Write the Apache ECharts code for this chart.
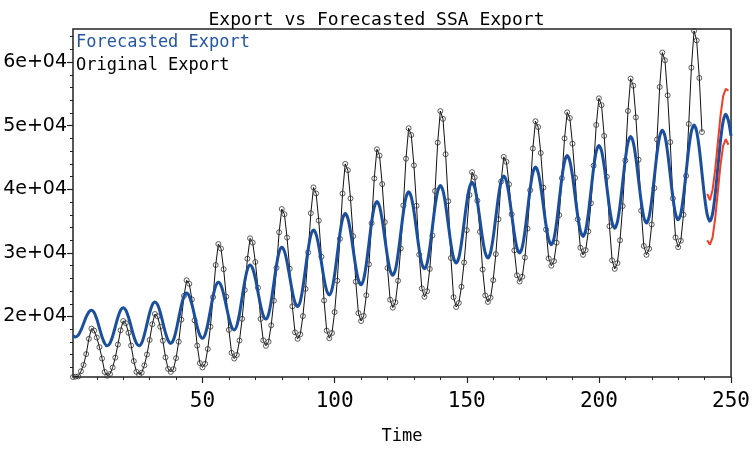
<!DOCTYPE html>
<html>
<head>
<meta charset="utf-8">
<script src="https://cdn.jsdelivr.net/npm/echarts@6/dist/echarts.min.js"></script>
<style>
  html, body { margin: 0; padding: 0; background: #fff; }
  #chart { width: 753px; height: 450px; }
</style>
</head>
<body>
<div id="chart"></div>
<script>
// original export, t = 1..239
const originalExport = [
  10500, 10550, 10600, 11400, 12400, 14100, 16500, 18100, 17800, 16700,
  15200, 13400, 11300, 10700, 10960, 11990, 13540, 15600, 17840, 19300,
  18960, 17450, 15440, 13000, 11320, 10900, 11190, 12330, 14040, 16320,
  18790, 20400, 20040, 18400, 16210, 13580, 11760, 11300, 11730, 13460,
  16050, 19510, 23250, 25700, 25150, 22690, 19400, 15430, 12690, 12000,
  12580, 14910, 18400, 23060, 28100, 31400, 30680, 27440, 23120, 17900,
  14300, 13400, 13970, 16240, 19640, 24170, 29090, 32300, 31620, 28580,
  24530, 19630, 16250, 15400, 16050, 18630, 22500, 27660, 33250, 36900,
  36080, 32410, 27520, 21600, 17520, 16500, 17210, 20070, 24350, 30070,
  36250, 40300, 39350, 35090, 29400, 22530, 17790, 16600, 17420, 20710,
  25640, 32220, 39340, 44000, 43010, 38570, 32640, 25480, 20540, 19300,
  20110, 23350, 28210, 34690, 41710, 46300, 45300, 40820, 34850, 27630,
  22650, 21400, 22250, 25630, 30710, 37470, 44810, 49600, 48540, 43770,
  37410, 29730, 24430, 23100, 23980, 27480, 32740, 39740, 47340, 52300,
  51070, 45520, 38130, 29200, 23040, 21500, 22140, 24680, 28500, 33580,
  39100, 42700, 41880, 38210, 33320, 27400, 23320, 22300, 22980, 25720,
  29820, 35300, 41220, 45100, 44320, 40790, 36080, 30400, 26480, 25500,
  26260, 29280, 33820, 39860, 46420, 50700, 49790, 45710, 40260, 33680,
  29140, 28000, 28720, 31620, 35950, 41740, 48000, 52100, 51200, 47170,
  41800, 35300, 30820, 29700, 30440, 33390, 37820, 43720, 50120, 54300,
  53230, 48400, 41970, 34200, 28840, 27500, 28400, 31990, 37370, 44540,
  52320, 57400, 56290, 51310, 44660, 36630, 31090, 29700, 30650, 34470,
  40190, 47830, 56090, 61500, 60280, 54770, 47420, 38550, 32430, 30900,
  31920, 36000, 42120, 50280, 59120, 64900, 63400, 57500, 49000
];

// forecasted (SSA) export, t = 1..250
const forecastExport = [
  17000, 16800, 17080, 17850, 18900, 19950, 20720, 21000, 20630, 19600,
  18200, 16800, 15780, 15400, 15800, 16900, 18400, 19900, 21000, 21400,
  21000, 19900, 18400, 16900, 15800, 15400, 15860, 17130, 18850, 20580,
  21840, 22300, 21870, 20680, 19050, 17430, 16240, 15800, 16330, 17780,
  19750, 21730, 23170, 23700, 23220, 21930, 20150, 18380, 17080, 16600,
  17190, 18800, 21000, 23200, 24810, 25400, 24900, 23530, 21650, 19780,
  18400, 17900, 18580, 20450, 23000, 25550, 27420, 28100, 27530, 25980,
  23850, 21730, 20170, 19600, 20360, 22430, 25250, 28080, 30140, 30900,
  30280, 28580, 26250, 23930, 22220, 21600, 22400, 24600, 27600, 30600,
  32800, 33600, 32920, 31050, 28500, 25950, 24080, 23400, 24260, 26600,
  29800, 33000, 35340, 36200, 35450, 33400, 30600, 27800, 25750, 25000,
  25880, 28280, 31550, 34830, 37220, 38100, 37320, 35200, 32300, 29400,
  27280, 26500, 27380, 29780, 33050, 36330, 38720, 39600, 38790, 36580,
  33550, 30530, 28310, 27500, 28380, 30780, 34050, 37330, 39720, 40600,
  39780, 37550, 34500, 31450, 29220, 28400, 29250, 31580, 34750, 37930,
  40250, 41100, 40300, 38130, 35150, 32180, 30000, 29200, 30060, 32430,
  35650, 38880, 41240, 42100, 41290, 39080, 36050, 33030, 30810, 30000,
  30900, 33380, 36750, 40130, 42600, 43500, 42680, 40450, 37400, 34350,
  32120, 31300, 32240, 34800, 38300, 41800, 44360, 45300, 44450, 42130,
  38950, 35780, 33450, 32600, 33560, 36180, 39750, 43330, 45940, 46900,
  46030, 43650, 40400, 37150, 34770, 33900, 34870, 37500, 41100, 44700,
  47340, 48300, 47390, 44900, 41500, 38100, 35610, 34700, 35680, 38350,
  42000, 45650, 48320, 49300, 48360, 45780, 42250, 38730, 36150, 35200,
  36200, 38930, 42650, 46380, 49100, 50100, 49090, 46330, 42550, 38780,
  36010, 35000, 36130, 39200, 43400, 47600, 50670, 51800, 50800, 48400
];

// forecast bounds, t = 241..249
const boundStart = 241;
const upperBound = [39300, 38300, 39900, 43100, 47300, 51500, 54600, 55800, 55500];
const lowerBound = [32000, 31300, 32400, 35400, 39600, 43800, 46800, 47900, 47000];

const xMajor = [50, 100, 150, 200, 250];
const xMinor = [10, 20, 30, 40, 50, 60, 70, 80, 90, 100, 110, 120, 130, 140, 150, 160, 170, 180, 190, 200, 210, 220, 230, 240, 250];
const yMajor = [20000, 30000, 40000, 50000, 60000];
const yMinor = [12000, 14000, 16000, 18000, 20000, 22000, 24000, 26000, 28000, 30000, 32000, 34000, 36000, 38000, 40000,
  42000, 44000, 46000, 48000, 50000, 52000, 54000, 56000, 58000, 60000, 62000, 64000];

const toPairs = (arr, start) => arr.map((v, i) => [start + i, v]);

const chart = echarts.init(document.getElementById('chart'));

const xBase = {
  type: 'value', min: 1, max: 250, position: 'bottom',
  splitLine: { show: false },
  axisLine: { onZero: false, show: false }
};
const yBase = {
  type: 'value', min: 10500, max: 65200, position: 'left',
  splitLine: { show: false },
  axisLine: { onZero: false, show: false }
};

chart.setOption({
  animation: false,
  title: {
    text: 'Export vs Forecasted SSA Export',
    left: 'center', top: 6,
    textStyle: { fontFamily: 'DejaVu Sans Mono', fontSize: 18, fontWeight: 'normal', color: '#000' }
  },
  grid: {
    left: 73, right: 20, top: 29, bottom: 70,
    show: true, borderColor: '#222', borderWidth: 1.5, backgroundColor: 'transparent'
  },
  xAxis: [
    Object.assign({}, xBase, {
      name: 'Time', nameLocation: 'middle', nameGap: 51,
      nameTextStyle: { fontFamily: 'DejaVu Sans Mono', fontSize: 17, color: '#000' },
      axisTick: { length: 6, customValues: xMajor, lineStyle: { color: '#222', width: 1.2 } },
      axisLabel: {
        customValues: xMajor, margin: 14,
        fontFamily: 'DejaVu Sans Mono', fontSize: 21, color: '#000'
      }
    }),
    Object.assign({}, xBase, {
      axisTick: { length: 3, customValues: xMinor, lineStyle: { color: '#222', width: 1 } },
      axisLabel: { show: false }
    })
  ],
  yAxis: [
    Object.assign({}, yBase, {
      axisTick: { length: 6, customValues: yMajor, lineStyle: { color: '#222', width: 1.2 } },
      axisLabel: {
        customValues: yMajor, margin: 6,
        fontFamily: 'DejaVu Sans', fontSize: 19, color: '#000',
        formatter: v => (v / 10000) + 'e+04'
      }
    }),
    Object.assign({}, yBase, {
      axisTick: { length: 3, customValues: yMinor, lineStyle: { color: '#222', width: 1 } },
      axisLabel: { show: false }
    })
  ],
  graphic: [
    { type: 'text', left: 76, top: 34,
      style: { text: 'Forecasted Export', fill: '#2456a4', font: '17px "DejaVu Sans Mono"' } },
    { type: 'text', left: 76, top: 57,
      style: { text: 'Original Export', fill: '#000', font: '17px "DejaVu Sans Mono"' } }
  ],
  series: [
    {
      name: 'Original Export', type: 'line',
      data: toPairs(originalExport, 1),
      symbol: 'circle', symbolSize: 5, showSymbol: true,
      lineStyle: { color: '#111', width: 1 },
      itemStyle: { color: 'rgba(255,255,255,0)', borderColor: '#333', borderWidth: 0.8 },
      z: 2
    },
    {
      name: 'Forecasted Export', type: 'line',
      data: toPairs(forecastExport, 1),
      showSymbol: false, smooth: 0.3,
      lineStyle: { color: '#1b4f9e', width: 3 },
      z: 3
    },
    {
      name: 'Upper', type: 'line',
      data: toPairs(upperBound, boundStart),
      showSymbol: false,
      lineStyle: { color: '#f03e28', width: 2 },
      z: 4
    },
    {
      name: 'Lower', type: 'line',
      data: toPairs(lowerBound, boundStart),
      showSymbol: false,
      lineStyle: { color: '#f03e28', width: 2 },
      z: 4
    }
  ]
});
</script>
</body>
</html>
